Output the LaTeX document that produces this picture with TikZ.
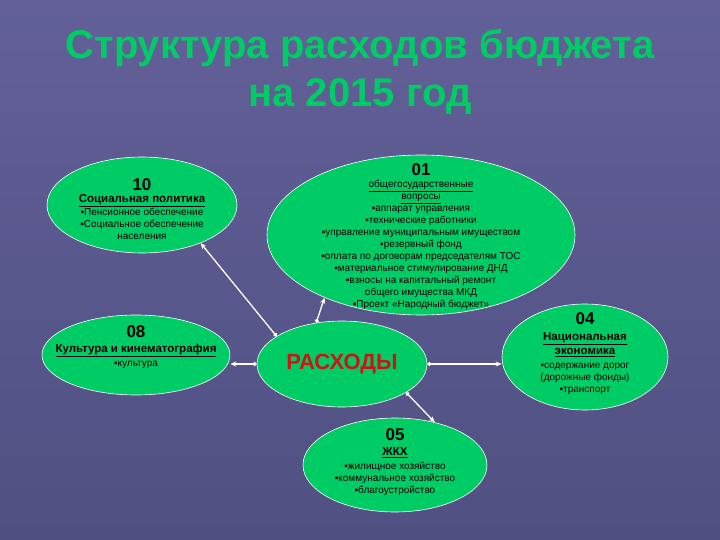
\documentclass[tikz,border=0pt]{standalone}
\usepackage{fontspec}
\setmainfont{Liberation Sans}
\usetikzlibrary{shapes.geometric,arrows.meta}
\definecolor{bgtop}{RGB}{98,96,152}
\definecolor{bgbot}{RGB}{80,80,130}
\definecolor{leaf}{RGB}{0,204,102}
\definecolor{redtxt}{RGB}{204,20,20}
\newcommand{\num}[1]{{\fontsize{17}{19}\selectfont\bfseries #1}}
\newcommand{\head}[1]{{\fontsize{11.5}{14}\selectfont\bfseries\underline{#1}}}

\begin{document}
\begin{tikzpicture}[x=1pt, y=-1pt,
    oval/.style={ellipse, draw=white, line width=0.6pt, fill=leaf, inner sep=0pt},
    txt/.style={align=center, font=\fontsize{10}{12}\selectfont, inner sep=0pt},
    link/.style={white, line width=1.3pt, {Circle[length=4pt]}-{Stealth[length=6pt,width=5pt]}}]
    \shade[top color=bgtop, bottom color=bgbot] (0,0) rectangle (720,540);
    % title
    \node[font=\fontsize{40}{48}\selectfont\bfseries, text=leaf, align=center] (title) at (360,72) {Структура расходов бюджета\\на 2015 год};
    % ovals
    \node[oval, minimum width=190, minimum height=96] (e10) at (142,205) {};
    \node[oval, minimum width=308, minimum height=160] (e01) at (421,235) {};
    \node[oval, minimum width=188, minimum height=80] (e08) at (136,355) {};
    \node[oval, minimum width=166, minimum height=106] (e04) at (585,357) {};
    \node[oval, minimum width=170, minimum height=86] (ras) at (342,364) {};
    \node[oval, minimum width=184, minimum height=94] (e05) at (395,465) {};
    % texts
    \node[txt] (t10) at (142,209) {\num{10}\\ \head{Социальная политика}\\[1pt] ▪Пенсионное обеспечение\\ ▪Социальное обеспечение\\ населения};
    \node[txt] (t01) at (421,237) {\num{01}\\ \underline{общегосударственные}\\ \underline{вопросы}\\ ▪аппарат управления\\ ▪технические работники\\ ▪управление муниципальным имуществом\\ ▪резервный фонд\\ ▪оплата по договорам председателям ТОС\\ ▪материальное стимулирование ДНД\\ ▪взносы на капитальный ремонт\\ общего имущества МКД\\ ▪Проект «Народный бюджет»};
    \node[txt] (t08) at (136,347.5) {\num{08}\\[3pt] \head{Культура и кинематография}\\[2pt] ▪культура};
    \node[txt] (t04) at (585,354) {\num{04}\\[4pt] \head{Национальная}\\[2pt] \head{экономика}\\[2pt] ▪содержание дорог\\ (дорожные фонды)\\ ▪транспорт};
    \node[txt] (t05) at (395,462) {\num{05}\\[3pt] \head{ЖКХ}\\[2pt] ▪жилищное хозяйство\\ ▪коммунальное хозяйство\\ ▪благоустройство};
    \node[font=\fontsize{22}{24}\selectfont\bfseries, text=redtxt] (tras) at (ras.center) {РАСХОДЫ};
    % links
    \draw[link] (ras.157) -- (e10.-33);
    \draw[link] (ras.122) -- (e01.213);
    \draw[link] (ras.west) -- (ras.west -| e08.east);
    \draw[link] (ras.east) -- (ras.east -| e04.west);
    \draw[link] (ras.-24) -- (e05.47);
\end{tikzpicture}
\end{document}
